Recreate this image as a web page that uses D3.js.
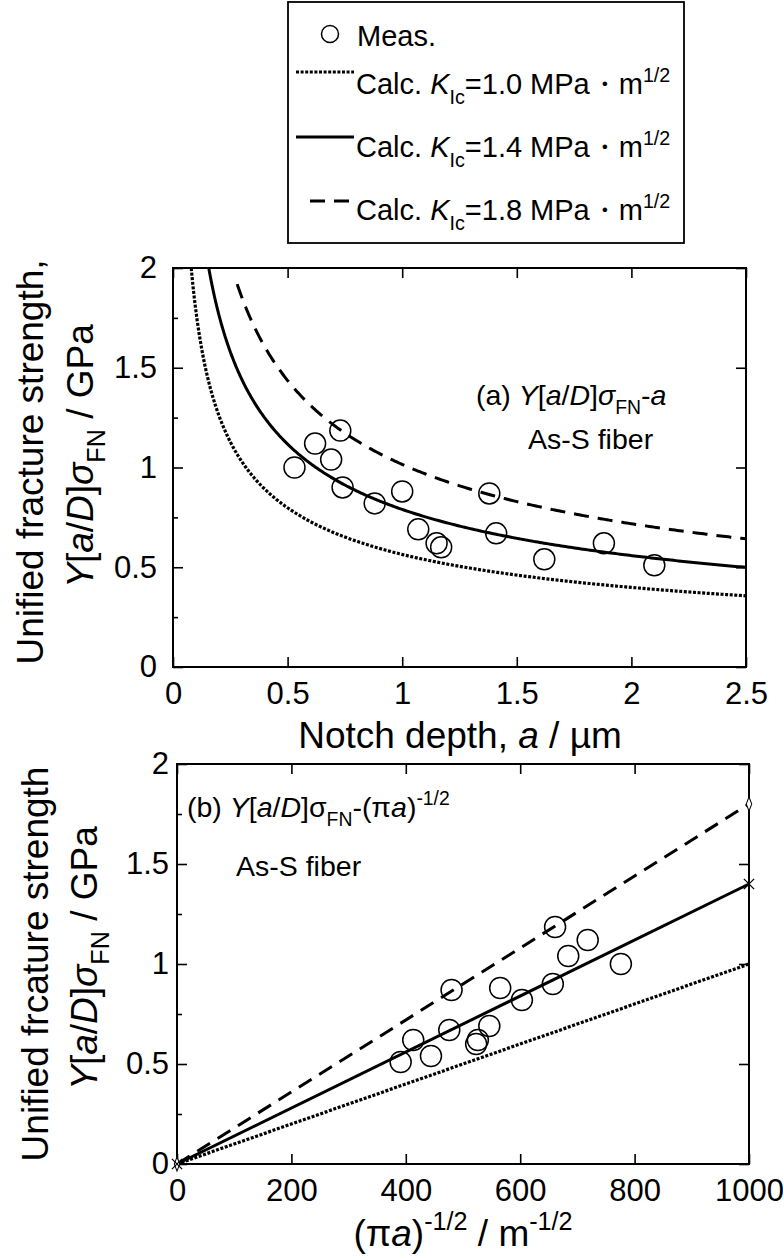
<!DOCTYPE html>
<html>
<head>
<meta charset="utf-8">
<script src="https://cdn.jsdelivr.net/npm/d3@7"></script>
<style>
  html, body { margin: 0; padding: 0; background: #fff; }
  svg { display: block; }
  text { font-family: "Liberation Sans", Arial, sans-serif; fill: #000; }
</style>
</head>
<body>
<svg id="chart" width="783" height="1259"></svg>
<script>
// ---------------- data ----------------
// measured notch depth a (µm)
const notchDepth = [0.53, 0.62, 0.69, 0.73, 0.74, 0.88, 1.00, 1.07, 1.15, 1.17, 1.38, 1.41, 1.62, 1.88, 2.10];
// unified fracture strength Y[a/D]σFN (GPa)
const strengthMeas = [1.00, 1.12, 1.04, 1.185, 0.90, 0.82, 0.88, 0.69, 0.62, 0.60, 0.87, 0.67, 0.54, 0.62, 0.51];
// (πa)^-1/2 (m^-1/2) for the same specimens
const invSqrtPiA = [776, 718, 684, 661, 657, 603, 565, 546, 526, 523, 480, 476, 444, 413, 391];
// fracture toughness of the calculated curves (MPa·m^1/2)
const kIcValues = [1.0, 1.4, 1.8];
const kIcLabels = ["1.0", "1.4", "1.8"];
// start of each calculated curve in panel (a) (µm)
const curveStartA = [0.0796, 0.156, 0.28];
// ticks
const xTicksA = [0, 0.5, 1, 1.5, 2, 2.5];
const xTickLabelsA = ["0", "0.5", "1", "1.5", "2", "2.5"];
const yTicks = [0, 0.5, 1, 1.5, 2];
const yTickLabels = ["0", "0.5", "1", "1.5", "2"];
const yMinorTicks = [0.25, 0.75, 1.25, 1.75];
const xTicksB = [0, 200, 400, 600, 800, 1000];
const xTickLabelsB = ["0", "200", "400", "600", "800", "1000"];

// ---------------- styles ----------------
const lineStyles = [
  { width: 3.2, dash: "3,1.6" },     // K=1.0 dotted
  { width: 3.0, dash: null },        // K=1.4 solid
  { width: 3.0, dash: "15,9" }       // K=1.8 dashed
];

const svg = d3.select("#chart");
const FONT_TICK = 31, FONT_TITLE = 37, FONT_LEG = 29, FONT_ANN = 28.5;

// rich text helper: parts = [{t, i, sub, sup}]
function rich(textSel, parts, size) {
  let shift = 0;
  parts.forEach(p => {
    const ts = textSel.append("tspan").text(p.t);
    let target = 0, fs = size;
    if (p.sub) { target = size * 0.33; fs = size * 0.68; }
    if (p.sup) { target = -size * 0.42; fs = size * 0.68; }
    const dy = target - shift;
    if (dy !== 0) ts.attr("dy", dy);
    shift = target;
    ts.attr("font-size", fs);
    if (p.i) ts.attr("font-style", "italic");
  });
}

function drawFrame(g, x, y, xTicks, xLabels, yTicksArr, yLabels, yPad) {
  const [x0, x1] = x.range();
  const [y0, y1] = y.range();
  const bx = g.append("g").attr("transform", `translate(0,${y0})`)
    .call(d3.axisBottom(x).tickValues(xTicks).tickFormat((d, i) => xLabels[i])
      .tickSizeInner(-10).tickSizeOuter(0).tickPadding(15));
  const tx = g.append("g").attr("transform", `translate(0,${y1})`)
    .call(d3.axisTop(x).tickValues(xTicks).tickFormat("").tickSizeInner(-10).tickSizeOuter(0));
  const ly = g.append("g").attr("transform", `translate(${x0},0)`)
    .call(d3.axisLeft(y).tickValues(yTicksArr).tickFormat((d, i) => yLabels[i])
      .tickSizeInner(-10).tickSizeOuter(0).tickPadding(yPad));
  const lm = g.append("g").attr("transform", `translate(${x0},0)`)
    .call(d3.axisLeft(y).tickValues(yMinorTicks).tickFormat("").tickSizeInner(-5).tickSizeOuter(0));
  const ry = g.append("g").attr("transform", `translate(${x1},0)`)
    .call(d3.axisRight(y).tickValues(yTicksArr).tickFormat("").tickSizeInner(-10).tickSizeOuter(0));
  [bx, tx, ly, lm, ry].forEach(a => {
    a.select(".domain").remove();
    a.selectAll("line").attr("stroke", "#000").attr("stroke-width", 1.6);
    a.selectAll("text").attr("font-size", FONT_TICK).attr("font-family", "Liberation Sans, Arial, sans-serif").attr("fill", "#000");
  });
  g.append("rect").attr("x", x0).attr("y", y1).attr("width", x1 - x0).attr("height", y0 - y1)
    .attr("fill", "none").attr("stroke", "#000").attr("stroke-width", 2);
}

function styled(path, i) {
  path.attr("fill", "none").attr("stroke", "#000").attr("stroke-width", lineStyles[i].width);
  if (lineStyles[i].dash) path.attr("stroke-dasharray", lineStyles[i].dash);
  return path;
}

// ---------------- legend ----------------
const leg = svg.append("g");
leg.append("rect").attr("x", 288).attr("y", 2).attr("width", 396).attr("height", 241)
  .attr("fill", "#fff").attr("stroke", "#000").attr("stroke-width", 1.8);
leg.append("circle").attr("cx", 330).attr("cy", 34).attr("r", 8.5)
  .attr("fill", "none").attr("stroke", "#000").attr("stroke-width", 1.5);
leg.append("text").attr("x", 357).attr("y", 46).attr("font-size", FONT_LEG).text("Meas.");
const legRowsY = [94, 157, 220];
const legLineY = [72, 137, 201];
const legLineX0 = [296, 296, 310];
kIcValues.forEach((k, i) => {
  styled(leg.append("line").attr("x1", legLineX0[i]).attr("x2", 354)
    .attr("y1", legLineY[i]).attr("y2", legLineY[i]), i);
  const t = leg.append("text").attr("x", 356).attr("y", legRowsY[i]).attr("font-size", FONT_LEG);
  rich(t, [{ t: "Calc. " }, { t: "K", i: true }, { t: "Ic", sub: true },
           { t: "=" + kIcLabels[i] + " MPa\u30FBm" }, { t: "1/2", sup: true }], FONT_LEG);
});

// ---------------- panel (a) ----------------
const gA = svg.append("g");
const xA = d3.scaleLinear().domain([0, 2.5]).range([173, 746]);
const yA = d3.scaleLinear().domain([0, 2]).range([667, 268]);
drawFrame(gA, xA, yA, xTicksA, xTickLabelsA, yTicks, yTickLabels, 16);

// calculated curves: σ = K_Ic / sqrt(π a)  (a in µm -> m, MPa -> GPa)
kIcValues.forEach((k, i) => {
  const pts = d3.range(0, 401).map(j => {
    const a = curveStartA[i] + (2.5 - curveStartA[i]) * Math.pow(j / 400, 2);
    return [a, k / Math.sqrt(Math.PI * a * 1e-6) / 1000];
  });
  styled(gA.append("path").datum(pts)
    .attr("d", d3.line().x(d => xA(d[0])).y(d => yA(d[1])).curve(d3.curveLinear)), i);
});
gA.selectAll("circle.meas").data(notchDepth).join("circle").attr("class", "meas")
  .attr("cx", d => xA(d)).attr("cy", (d, i) => yA(strengthMeas[i])).attr("r", 10.5)
  .attr("fill", "none").attr("stroke", "#000").attr("stroke-width", 1.5);

const annA = gA.append("text").attr("x", 476).attr("y", 405).attr("font-size", FONT_ANN);
rich(annA, [{ t: "(a) " }, { t: "Y", i: true }, { t: "[" }, { t: "a", i: true }, { t: "/" },
            { t: "D", i: true }, { t: "]" }, { t: "σ", i: true }, { t: "FN", sub: true },
            { t: "-" }, { t: "a", i: true }], FONT_ANN);
gA.append("text").attr("x", 528).attr("y", 449).attr("font-size", FONT_ANN).text("As-S fiber");

// axis titles (a)
const xtA = gA.append("text").attr("x", 460).attr("y", 748).attr("text-anchor", "middle").attr("font-size", FONT_TITLE);
rich(xtA, [{ t: "Notch depth, " }, { t: "a", i: true }, { t: " / µm" }], FONT_TITLE);
gA.append("text").attr("transform", "translate(43,462) rotate(-90)").attr("text-anchor", "middle")
  .attr("font-size", FONT_TITLE).text("Unified fracture strength,");
const ytA = gA.append("text").attr("transform", "translate(93,456) rotate(-90)").attr("text-anchor", "middle")
  .attr("font-size", FONT_TITLE);
rich(ytA, [{ t: "Y", i: true }, { t: "[" }, { t: "a", i: true }, { t: "/" }, { t: "D", i: true },
           { t: "]" }, { t: "σ", i: true }, { t: "FN", sub: true }, { t: " / GPa" }], FONT_TITLE);

// ---------------- panel (b) ----------------
const gB = svg.append("g");
const xB = d3.scaleLinear().domain([0, 1000]).range([177, 749]);
const yB = d3.scaleLinear().domain([0, 2]).range([1164, 764]);
drawFrame(gB, xB, yB, xTicksB, xTickLabelsB, yTicks, yTickLabels, 8);

kIcValues.forEach((k, i) => {
  const pts = [[0, 0], [1000, k]];
  styled(gB.append("path").datum(pts)
    .attr("d", d3.line().x(d => xB(d[0])).y(d => yB(d[1]))), i);
});
// end markers
const diamond = d3.symbol().type(d3.symbolDiamond).size(40);
const cross = d3.symbol().type(d3.symbolX).size(70);
[[0, 0], [1000, kIcValues[2]]].forEach(p => {
  gB.append("path").attr("d", diamond()).attr("transform", `translate(${xB(p[0])},${yB(p[1])}) scale(0.8,1.2)`)
    .attr("fill", "#fff").attr("stroke", "#000").attr("stroke-width", 1.2);
});
[[0, 0], [1000, kIcValues[1]]].forEach(p => {
  gB.append("path").attr("d", cross()).attr("transform", `translate(${xB(p[0])},${yB(p[1])})`)
    .attr("fill", "none").attr("stroke", "#000").attr("stroke-width", 1.3);
});
gB.selectAll("circle.meas").data(invSqrtPiA).join("circle").attr("class", "meas")
  .attr("cx", d => xB(d)).attr("cy", (d, i) => yB(strengthMeas[i])).attr("r", 10.5)
  .attr("fill", "none").attr("stroke", "#000").attr("stroke-width", 1.5);

const annB = gB.append("text").attr("x", 187).attr("y", 817).attr("font-size", FONT_ANN);
rich(annB, [{ t: "(b) " }, { t: "Y", i: true }, { t: "[" }, { t: "a", i: true }, { t: "/" },
            { t: "D", i: true }, { t: "]" }, { t: "σ" }, { t: "FN", sub: true },
            { t: "-(π" }, { t: "a", i: true }, { t: ")" }, { t: "-1/2", sup: true }], FONT_ANN);
gB.append("text").attr("x", 236).attr("y", 876).attr("font-size", FONT_ANN).text("As-S fiber");

const xtB = gB.append("text").attr("x", 463).attr("y", 1246).attr("text-anchor", "middle").attr("font-size", FONT_TITLE);
rich(xtB, [{ t: "(π" }, { t: "a", i: true }, { t: ")" }, { t: "-1/2", sup: true },
           { t: " / m" }, { t: "-1/2", sup: true }], FONT_TITLE);
gB.append("text").attr("transform", "translate(48,964) rotate(-90)").attr("text-anchor", "middle")
  .attr("font-size", FONT_TITLE).text("Unified frcature strength");
const ytB = gB.append("text").attr("transform", "translate(97,958) rotate(-90)").attr("text-anchor", "middle")
  .attr("font-size", FONT_TITLE);
rich(ytB, [{ t: "Y", i: true }, { t: "[" }, { t: "a", i: true }, { t: "/" }, { t: "D", i: true },
           { t: "]" }, { t: "σ", i: true }, { t: "FN", sub: true }, { t: " / GPa" }], FONT_TITLE);
</script>
</body>
</html>
